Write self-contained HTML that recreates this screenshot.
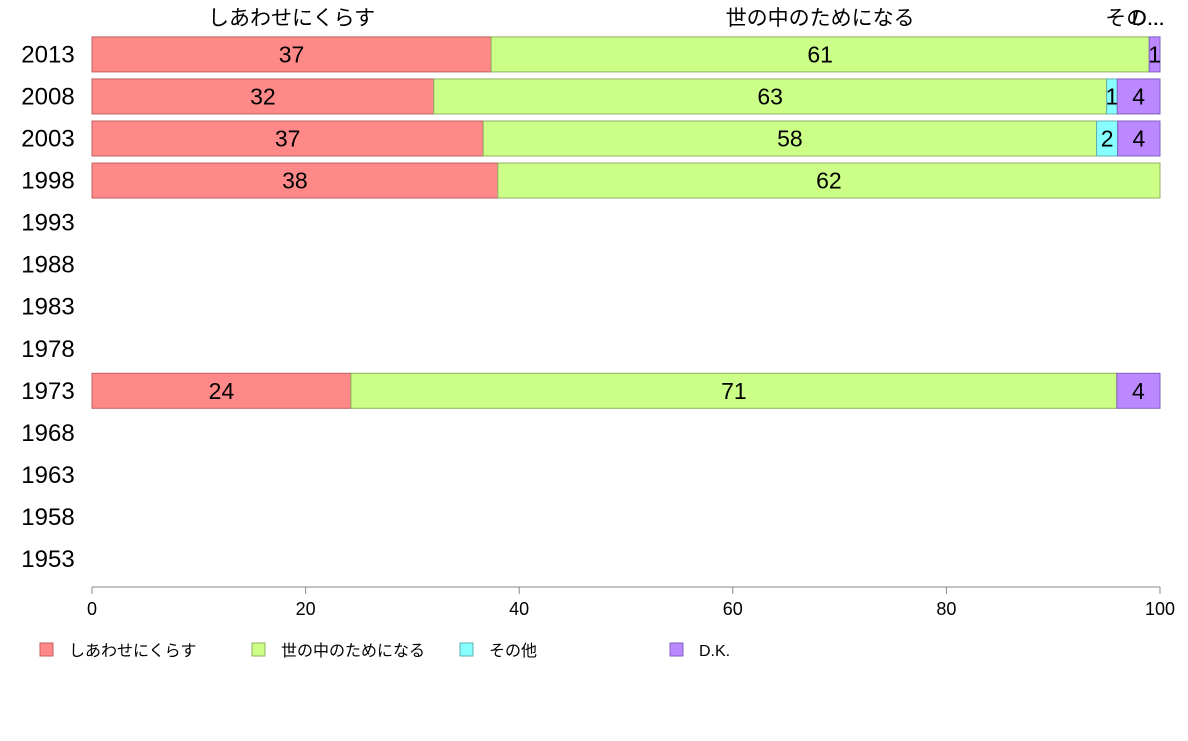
<!DOCTYPE html>
<html><head><meta charset="utf-8"><style>
body{margin:0;background:#fff;}
svg text{font-family:"Liberation Sans","Noto Sans CJK JP",sans-serif;}
</style></head><body>
<svg id="chart" width="1188" height="736" xmlns="http://www.w3.org/2000/svg"></svg>
<script>
const years = ["1953","1958","1963","1968","1973","1978","1983","1988","1993","1998","2003","2008","2013"];
const categories = ["しあわせにくらす","世の中のためになる","その他","D.K."];
const happy   = [null,null,null,null,24,null,null,null,null,38,37,32,37];
const society = [null,null,null,null,71,null,null,null,null,62,58,63,61];
const other   = [null,null,null,null,0,null,null,null,null,0,2,1,0];
const dk      = [null,null,null,null,4,null,null,null,null,0,4,4,1];
const xTicks = [0,20,40,60,80,100];
const colors = ["#ff8888","#ccff88","#88ffff","#bb88ff"];
const strokes = ["#c06060","#90b060","#60b0b0","#8060c0"];
const svg = document.getElementById('chart');
const NS = "http://www.w3.org/2000/svg";
const x = v => 92 + v * 10.68;
const y = i => 559 - i * 42.05;
function mk(tag, attrs, txt){const e=document.createElementNS(NS,tag);for(const k in attrs)e.setAttribute(k,attrs[k]);if(txt!==undefined)e.textContent=txt;svg.appendChild(e);return e;}
// year labels
years.forEach((yr,i)=>{
  const t=mk('text',{x:48,y:y(i)+8,'font-size':24,'text-anchor':'middle',fill:'#000'},yr);
  
  
});
// bars
const series=[happy,society,other,dk];
years.forEach((yr,i)=>{
  if(happy[i]===null) return;
  const vals=series.map(s=>s[i]);
  const tot=vals.reduce((a,b)=>a+b,0);
  let cum=0;
  vals.forEach((v,k)=>{
    const s=cum/tot*100, e=(cum+v)/tot*100; cum+=v;
    if(v<=0) return;
    const r=mk('rect',{x:x(s),y:y(i)-17.5,width:x(e)-x(s),height:35,fill:colors[k],stroke:strokes[k],'stroke-width':1});
    
    
    const t=mk('text',{x:(x(s)+x(e))/2,y:y(i)+8,'font-size':23,'text-anchor':'middle',fill:'#000'},String(v));
    
    
  });
});
// top category labels (over 2013 row)
(function(){
  const i=12; const vals=series.map(s=>s[i]); const tot=vals.reduce((a,b)=>a+b,0);
  const labels=["しあわせにくらす","世の中のためになる","その...","D..."];
  let cum=0;
  vals.forEach((v,k)=>{const s=cum/tot*100,e=(cum+v)/tot*100;cum+=v;
    let cx=(x(s)+x(e))/2; if(k===2) cx=1135; if(k===3) cx=1148;
    const t=mk('text',{x:cx,y:25,'font-size':21,'text-anchor':'middle',fill:'#000'},labels[k]);
    
    
  });
})();
// x axis
const ax=mk('line',{x1:x(0),x2:x(100),y1:587,y2:587,stroke:'#888','stroke-width':1});


xTicks.forEach(v=>{
  const l=mk('line',{x1:x(v),x2:x(v),y1:587,y2:594,stroke:'#888'});
  
  
  const t=mk('text',{x:x(v),y:615,'font-size':18,'text-anchor':'middle',fill:'#000'},String(v));
  
  
});
// legend
const lx=[40,252,460,670];
categories.forEach((c,k)=>{
  const r=mk('rect',{x:lx[k],y:643,width:13,height:13,fill:colors[k],stroke:strokes[k]});
  
  
  const t=mk('text',{x:lx[k]+29,y:656,'font-size':16,fill:'#000'},c);
  
  
});
</script>
</body></html>
